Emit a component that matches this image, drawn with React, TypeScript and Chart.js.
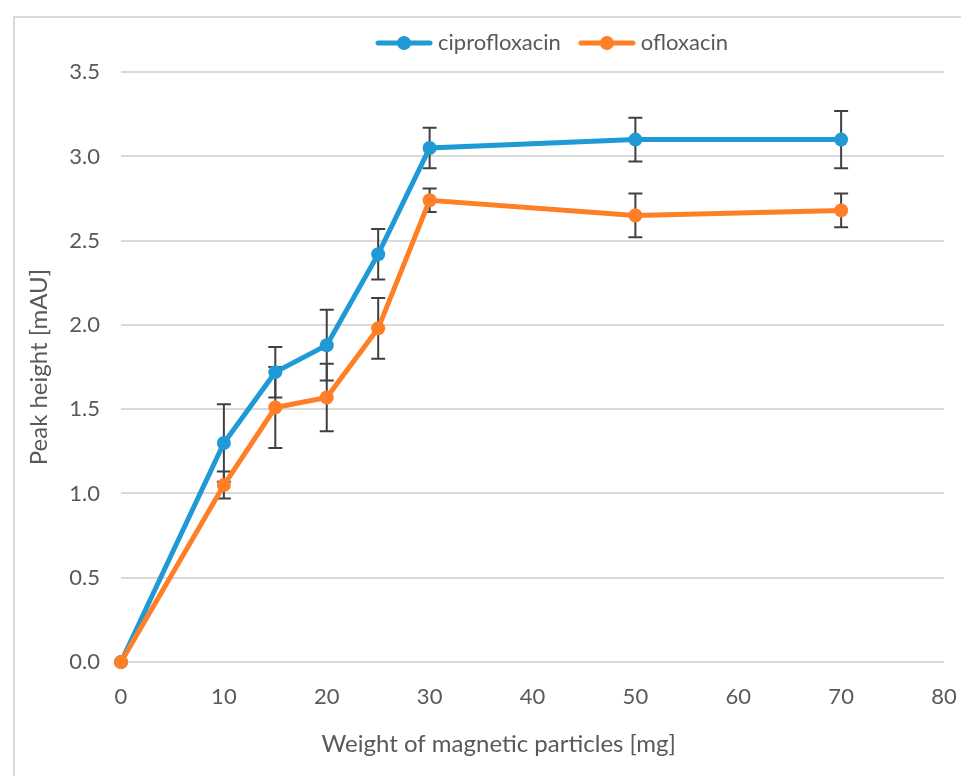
import React, { useEffect, useRef } from 'react';
import { Chart, registerables } from 'chart.js';

Chart.register(...registerables);

// ---- data ----
const weights = [0, 10, 15, 20, 25, 30, 50, 70];
const ciprofloxacin = [0, 1.30, 1.72, 1.88, 2.42, 3.05, 3.10, 3.10];
const ciprofloxacinErr = [0, 0.23, 0.15, 0.21, 0.15, 0.12, 0.13, 0.17];
const ofloxacin = [0, 1.05, 1.51, 1.57, 1.98, 2.74, 2.65, 2.68];
const ofloxacinErr = [0, 0.08, 0.24, 0.20, 0.18, 0.07, 0.13, 0.10];
const seriesNames = ['ciprofloxacin', 'ofloxacin'];
const xTitle = 'Weight of magnetic particles [mg]';
const yTitle = 'Peak height [mAU]';

const BLUE = '#1f9ad6';
const ORANGE = '#ff7f27';
const TEXT = '#595959';
const GRID = '#d9d9d9';
const FONT = 'Lato, "Open Sans", sans-serif';

function legendIcon(color: string) {
  const c = document.createElement('canvas');
  c.width = 58;
  c.height = 18;
  const g = c.getContext('2d')!;
  g.strokeStyle = color;
  g.lineWidth = 5;
  g.lineCap = 'round';
  g.beginPath();
  g.moveTo(3, 9);
  g.lineTo(55, 9);
  g.stroke();
  g.fillStyle = color;
  g.beginPath();
  g.arc(29, 9, 7, 0, Math.PI * 2);
  g.fill();
  return c;
}

function spaces(px: number, font: string) {
  const c = document.createElement('canvas').getContext('2d')!;
  c.font = font;
  const w = c.measureText(' ').width || 5;
  return ' '.repeat(Math.max(0, Math.round(px / w)));
}

const errorBars = {
  id: 'errorBars',
  beforeDatasetsDraw(chart: any) {
    const { ctx } = chart;
    const xs = chart.scales.x;
    const ys = chart.scales.y;
    ctx.save();
    ctx.strokeStyle = '#404040';
    ctx.lineWidth = 2;
    chart.data.datasets.forEach((ds: any) => {
      ds.data.forEach((p: any, i: number) => {
        const e = ds.errors[i];
        if (!e) return;
        const px = xs.getPixelForValue(p.x);
        const top = ys.getPixelForValue(p.y + e);
        const bot = ys.getPixelForValue(p.y - e);
        ctx.beginPath();
        ctx.moveTo(px, top);
        ctx.lineTo(px, bot);
        ctx.moveTo(px - 7, top);
        ctx.lineTo(px + 7, top);
        ctx.moveTo(px - 7, bot);
        ctx.lineTo(px + 7, bot);
        ctx.stroke();
      });
    });
    ctx.restore();
  },
};

const legendShift = {
  id: 'legendShift',
  afterLayout(chart: any) {
    const l = chart.legend;
    if (l) {
      l.left += 22;
      l.right += 22;
    }
  },
};

export default function App() {
  const ref = useRef<HTMLCanvasElement | null>(null);

  useEffect(() => {
    if (!ref.current) return;
    const icons = [legendIcon(BLUE), legendIcon(ORANGE)];
    const titleFont = `24px ${FONT}`;
    const chart = new Chart(ref.current, {
      type: 'line',
      data: {
        datasets: [
          {
            label: seriesNames[0],
            data: weights.map((x, i) => ({ x, y: ciprofloxacin[i] })),
            errors: ciprofloxacinErr,
            borderColor: BLUE,
            backgroundColor: BLUE,
            pointBackgroundColor: BLUE,
            pointBorderColor: BLUE,
            borderWidth: 5,
            pointRadius: 7,
            pointBorderWidth: 0,
            tension: 0,
            clip: false,
            order: 1,
          } as any,
          {
            label: seriesNames[1],
            data: weights.map((x, i) => ({ x, y: ofloxacin[i] })),
            errors: ofloxacinErr,
            borderColor: ORANGE,
            backgroundColor: ORANGE,
            pointBackgroundColor: ORANGE,
            pointBorderColor: ORANGE,
            borderWidth: 5,
            pointRadius: 7,
            pointBorderWidth: 0,
            tension: 0,
            clip: false,
            order: 0,
          } as any,
        ],
      },
      options: {
        responsive: false,
        animation: false,
        layout: { padding: { top: 9, left: 0, right: 17, bottom: 0 } },
        plugins: {
          tooltip: { enabled: false },
          subtitle: {
            display: true,
            text: '',
            position: 'top',
            weight: 0,
            fullSize: false,
            font: { size: 1 },
            padding: { top: 0, bottom: 7 },
          },
          legend: {
            position: 'top',
            fullSize: false,
            labels: {
              usePointStyle: true,
              pointStyleWidth: 46,
              padding: 23,
              color: TEXT,
              font: { family: FONT, size: 22 },
              sort: (a: any, b: any) => a.datasetIndex - b.datasetIndex,
              generateLabels: (c: any) =>
                (Chart.defaults.plugins.legend.labels.generateLabels as any)(c).map((it: any) => ({
                  ...it,
                  pointStyle: icons[it.datasetIndex],
                })),
            },
          },
        },
        scales: {
          x: {
            type: 'linear',
            min: 0,
            max: 80,
            ticks: {
              stepSize: 10,
              padding: 4,
              color: TEXT,
              font: { family: FONT, size: 22 },
            },
            grid: { display: false, drawTicks: true, tickLength: 18 },
            border: { display: false },
            title: {
              display: true,
              text: xTitle + spaces(68, titleFont),
              color: TEXT,
              font: { family: FONT, size: 24 },
              padding: { top: 0, bottom: 17 },
            },
            afterFit: (s: any) => {
              s.height = 114;
            },
          },
          y: {
            type: 'linear',
            min: 0,
            max: 3.5,
            ticks: {
              stepSize: 0.5,
              padding: 21,
              color: TEXT,
              font: { family: FONT, size: 22 },
              callback: (v: any) => Number(v).toFixed(1),
            },
            grid: { color: GRID, lineWidth: 2, drawTicks: false },
            border: { display: false },
            title: {
              display: true,
              text: yTitle,
              color: TEXT,
              font: { family: FONT, size: 24 },
              padding: { top: 25, bottom: 0 },
            },
            afterFit: (s: any) => {
              s.width = 121;
            },
          },
        },
      } as any,
      plugins: [errorBars, legendShift],
    });
    return () => chart.destroy();
  }, []);

  return (
    <div style={{ position: 'absolute', left: 0, top: 0, width: 961, height: 776, overflow: 'hidden', background: '#fff' }}>
      <div
        style={{
          position: 'absolute',
          left: 13,
          top: 16,
          width: 1100,
          height: 1100,
          borderLeft: `2px solid ${GRID}`,
          borderTop: `2px solid ${GRID}`,
        }}
      />
      <canvas ref={ref} width={961} height={776} style={{ position: 'absolute', left: 0, top: 0 }} />
    </div>
  );
}
